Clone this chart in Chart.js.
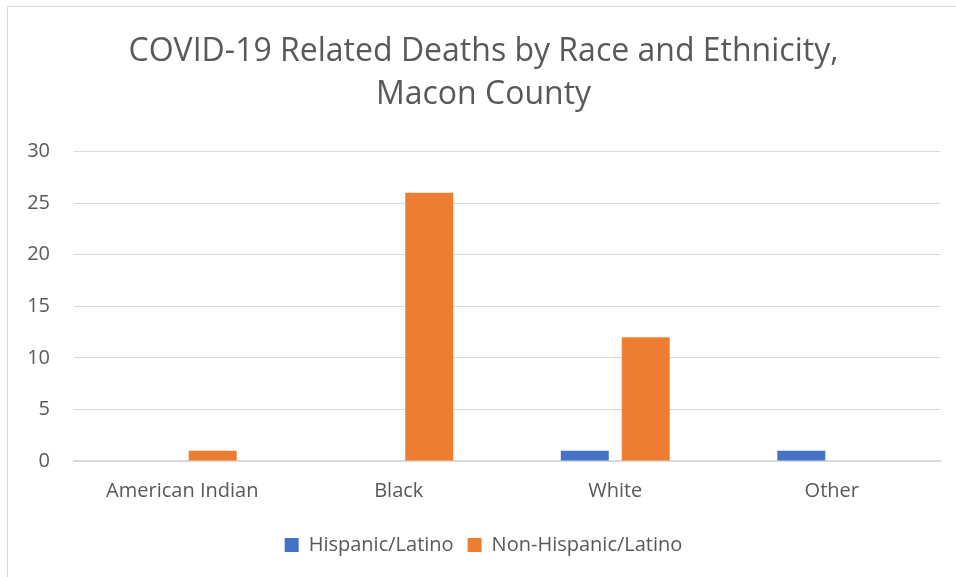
<!DOCTYPE html>
<html>
<head>
<meta charset="utf-8">
<script src="https://cdn.jsdelivr.net/npm/chart.js@4.4.1/dist/chart.umd.min.js"></script>
<style>
  html, body { margin: 0; padding: 0; background: #fff; overflow: hidden; }
  #frame { position: absolute; left: 7px; top: 6px; width: 960px; height: 580px; border: 1px solid #d9d9d9; box-sizing: border-box; }
  #wrap { position: absolute; left: 27px; top: 0; width: 929px; height: 577px; }
</style>
</head>
<body>
<div id="frame"></div>
<div id="wrap"><canvas id="myChart"></canvas></div>
<script>
// chart data
var categories = ["American Indian", "Black", "White", "Other"];
var hispanic = [0, 0, 1, 1];
var nonHispanic = [1, 26, 12, 0];
var yTicks = [0, 5, 10, 15, 20, 25, 30];

var fontFam = "'Open Sans', 'Noto Sans', sans-serif";
var grey = '#595959';

var ctx = document.getElementById('myChart').getContext('2d');
var myChart = new Chart(ctx, {
    type: 'bar',
    data: {
        labels: categories,
        datasets: [{
            label: "Hispanic/Latino",
            data: hispanic,
            backgroundColor: '#4472c4',
            categoryPercentage: 0.563,
            barPercentage: 0.787
        }, {
            label: "Non-Hispanic/Latino",
            data: nonHispanic,
            backgroundColor: '#ed7d31',
            categoryPercentage: 0.563,
            barPercentage: 0.787
        }]
    },
    options: {
        responsive: true,
        maintainAspectRatio: false,
        animation: false,
        layout: { autoPadding: false, padding: { left: 0, right: 16, top: 30, bottom: 12 } },
        plugins: {
            title: {
                display: true,
                text: ["COVID-19 Related Deaths by Race and Ethnicity,", "Macon County"],
                color: grey,
                font: { family: fontFam, size: 32, weight: 'normal', lineHeight: 1.35 },
                padding: { top: 0, bottom: 35 }
            },
            legend: {
                position: 'bottom',
                labels: {
                    color: grey,
                    font: { family: fontFam, size: 20 },
                    boxWidth: 14,
                    boxHeight: 14,
                    padding: 14
                }
            },
            tooltip: { enabled: false }
        },
        scales: {
            x: {
                grid: { display: false, drawTicks: false },
                border: { color: '#d9d9d9', width: 2 },
                ticks: { color: grey, font: { family: fontFam, size: 20 }, padding: 18 }
            },
            y: {
                min: 0,
                max: 30,
                afterBuildTicks: function (axis) {
                    axis.ticks = yTicks.map(function (v) { return { value: v }; });
                },
                afterFit: function (axis) {
                    axis.width = 47;
                },
                grid: { color: '#d9d9d9', drawTicks: false },
                border: { display: false },
                ticks: { color: grey, font: { family: fontFam, size: 20 }, padding: 24 }
            }
        }
    }
});
</script>
</body>
</html>
